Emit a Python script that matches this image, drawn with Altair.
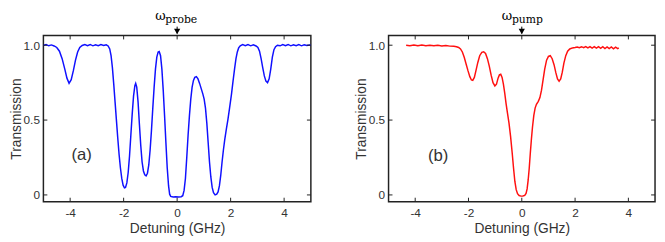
import altair as alt
import pandas as pd

# ---- data ----
probe_x = [-5.0, -4.9, -4.8, -4.7, -4.6, -4.5, -4.4, -4.3, -4.2, -4.12, -4.04, -3.96, -3.88, -3.8, -3.72, -3.64, -3.55,
           -3.45, -3.35, -3.25, -3.15, -3.05, -2.95, -2.85, -2.75, -2.65, -2.58,
           -2.52, -2.47, -2.42, -2.37, -2.32, -2.27, -2.22, -2.17, -2.12, -2.07, -2.02, -1.97, -1.93, -1.88, -1.83,
           -1.78, -1.73, -1.68, -1.63, -1.58, -1.55, -1.51, -1.46, -1.41, -1.36, -1.31, -1.26, -1.21, -1.16, -1.11,
           -1.06, -1.01, -0.96, -0.91, -0.86, -0.81, -0.76, -0.71, -0.67, -0.62, -0.57, -0.52, -0.47, -0.42, -0.37,
           -0.32, -0.28, -0.24, -0.15, -0.05, 0.05, 0.15, 0.21, 0.26, 0.31, 0.36, 0.41, 0.46, 0.51, 0.56, 0.61, 0.66,
           0.72, 0.78, 0.84, 0.9, 0.96, 1.01, 1.06, 1.11, 1.16, 1.21, 1.26, 1.31, 1.36, 1.42, 1.48, 1.53, 1.58, 1.63,
           1.68, 1.73, 1.78, 1.84, 1.9, 1.96, 2.03, 2.09, 2.15, 2.2, 2.25, 2.3, 2.36,
           2.45, 2.55, 2.65, 2.75, 2.85, 2.95,
           3.02, 3.08, 3.14, 3.2, 3.26, 3.32, 3.38, 3.44, 3.5, 3.56, 3.62, 3.68, 3.75,
           3.85, 3.95, 4.05, 4.15, 4.25, 4.35, 4.45, 4.55, 4.65, 4.75, 4.85, 4.95, 5.0]
probe_y = [0.998, 1.004, 0.996, 1.002, 0.995, 0.985, 0.96, 0.91, 0.84, 0.78, 0.745, 0.77, 0.83, 0.9, 0.955, 0.985, 0.998,
           1.004, 0.997, 1.005, 0.996, 1.003, 0.997, 1.004, 0.998, 1.003, 0.995,
           0.975, 0.93, 0.85, 0.74, 0.62, 0.5, 0.38, 0.27, 0.18, 0.11, 0.065, 0.047, 0.05, 0.08, 0.15,
           0.26, 0.4, 0.54, 0.66, 0.73, 0.745, 0.72, 0.62, 0.47, 0.33, 0.22, 0.16, 0.135, 0.128, 0.145,
           0.2, 0.3, 0.43, 0.58, 0.72, 0.84, 0.92, 0.955, 0.958, 0.93, 0.84, 0.7, 0.53, 0.35, 0.18,
           0.06, 0.005, -0.01, -0.014, -0.012, -0.014, -0.012, -0.005, 0.03, 0.11, 0.25, 0.4, 0.53, 0.64, 0.72, 0.765, 0.785,
           0.79, 0.775, 0.745, 0.71, 0.675, 0.64, 0.58, 0.48, 0.35, 0.22, 0.12, 0.05, 0.015, 0.0, 0.005, 0.02, 0.06, 0.13,
           0.22, 0.3, 0.37, 0.44, 0.505, 0.58, 0.67, 0.76, 0.845, 0.91, 0.955, 0.982, 0.996,
           1.004, 0.997, 1.004, 0.996, 1.003, 0.995,
           0.985, 0.96, 0.91, 0.85, 0.795, 0.76, 0.75, 0.775, 0.84, 0.92, 0.97, 0.99, 1.0,
           0.996, 1.004, 0.997, 1.005, 0.996, 1.003, 0.997, 1.004, 0.996, 1.003, 0.998, 1.002, 0.999]

pump_x = [-4.34, -4.2, -4.05, -3.9, -3.75, -3.6, -3.45, -3.3, -3.15, -3.0, -2.85, -2.7, -2.55, -2.45, -2.37, -2.3,
          -2.23, -2.16, -2.09, -2.02, -1.95, -1.89, -1.84, -1.78, -1.72, -1.65, -1.58, -1.5, -1.43, -1.36, -1.29,
          -1.22, -1.15, -1.08, -1.01, -0.95, -0.89, -0.84, -0.79, -0.74, -0.69, -0.64, -0.59, -0.54, -0.48, -0.42,
          -0.36, -0.31, -0.26, -0.21, -0.16, -0.1, -0.03, 0.04, 0.11, 0.16, 0.2, 0.24, 0.28, 0.32, 0.36, 0.4, 0.45,
          0.5, 0.55, 0.62, 0.68, 0.74, 0.8, 0.86, 0.93, 1.0, 1.07, 1.14, 1.21, 1.28, 1.34, 1.4, 1.46, 1.52, 1.58,
          1.65, 1.72, 1.8, 1.9, 2.0, 2.08, 2.16, 2.24, 2.32, 2.4, 2.48, 2.56, 2.64, 2.72, 2.8, 2.88, 2.96, 3.04,
          3.12, 3.2, 3.28, 3.36, 3.44, 3.52, 3.6, 3.64]
pump_y = [1.0, 0.997, 1.002, 0.996, 1.001, 0.997, 1.0, 0.996, 0.999, 0.995, 0.998, 0.994, 0.993, 0.99, 0.985, 0.975,
          0.955, 0.92, 0.875, 0.83, 0.79, 0.768, 0.765, 0.785, 0.83, 0.885, 0.93, 0.952, 0.956, 0.945, 0.91,
          0.86, 0.8, 0.75, 0.728, 0.74, 0.78, 0.802, 0.806, 0.785, 0.74, 0.68, 0.61, 0.55, 0.48, 0.39,
          0.28, 0.18, 0.09, 0.035, 0.008, -0.004, -0.008, -0.007, -0.003, 0.01, 0.04, 0.1, 0.18, 0.28, 0.37, 0.45, 0.53,
          0.58, 0.605, 0.625, 0.65, 0.7, 0.77, 0.84, 0.9, 0.925, 0.93, 0.91, 0.87, 0.815, 0.775, 0.76, 0.775, 0.82, 0.88,
          0.93, 0.96, 0.975, 0.982, 0.985, 0.988, 0.984, 0.99, 0.983, 0.991, 0.982, 0.991, 0.981, 0.99, 0.98, 0.99, 0.979, 0.99,
          0.978, 0.989, 0.977, 0.988, 0.976, 0.987, 0.977, 0.982]

x_ticks = [-4, -2, 0, 2, 4]
y_ticks = [0, 0.5, 1.0]
panel_labels = ["(a)", "(b)"]
label_x = [-3.57, -3.14]
label_y = [0.264, 0.26]
omega_subs = ["probe", "pump"]

# ---- styling ----
H = 169
XDOM = [-5, 5]
YDOM = [-0.045, 1.065]
FONT = "Liberation Sans"
TXT = "#333333"
FRAME = "#222222"


def panel(xs, ys, color, width, label, lx, ly, sub, omega_dx, sub_dx):
    xsc = alt.Scale(domain=XDOM, nice=False, zero=False)
    ysc = alt.Scale(domain=YDOM, nice=False, zero=False)
    X = alt.X("x:Q", scale=xsc, title="Detuning (GHz)", axis=alt.Axis(
        values=x_ticks, grid=False, domain=False, ticks=False, tickSize=0,
        labelExpr="datum.value < 0 ? '-' + abs(datum.value) : '' + datum.value",
        labelFont=FONT, labelFontSize=12, labelColor=TXT, labelPadding=6,
        titleFont=FONT, titleFontSize=14, titleFontWeight="normal", titleColor=TXT, titlePadding=3))
    Y = alt.Y("y:Q", scale=ysc, title="Transmission", axis=alt.Axis(
        values=y_ticks, grid=False, domain=False, ticks=False, tickSize=0,
        labelExpr="datum.value == 0 ? '0' : format(datum.value, '.1f')",
        labelFont=FONT, labelFontSize=12, labelColor=TXT, labelPadding=4,
        titleFont=FONT, titleFontSize=14, titleFontWeight="normal", titleColor=TXT, titlePadding=0))

    df = pd.DataFrame({"x": xs, "y": ys})
    line = alt.Chart(df).mark_line(color=color, strokeWidth=1.5, clip=True).encode(x=X, y=Y)

    xt = pd.DataFrame({"x": x_ticks})
    yt = pd.DataFrame({"y": y_ticks})
    bottom = alt.Chart(xt).mark_rule(color=FRAME, strokeWidth=1).encode(
        x=X, y=alt.value(H), y2=alt.value(H - 4))
    top = alt.Chart(xt).mark_rule(color=FRAME, strokeWidth=1).encode(
        x=X, y=alt.value(0), y2=alt.value(4))
    left = alt.Chart(yt).mark_rule(color=FRAME, strokeWidth=1).encode(
        y=Y, x=alt.value(0), x2=alt.value(4))
    right = alt.Chart(yt).mark_rule(color=FRAME, strokeWidth=1).encode(
        y=Y, x=alt.value(width), x2=alt.value(width - 4))

    arr = pd.DataFrame({"x": [0]})
    shaft = alt.Chart(arr).mark_rule(color="black", strokeWidth=1).encode(
        x=X, y=alt.value(-9), y2=alt.value(-2))
    head = alt.Chart(arr).mark_point(shape="triangle-down", filled=True, color="black",
                                     size=40, opacity=1).encode(x=X, y=alt.value(-4))
    omega = alt.Chart(arr).mark_text(text="ω", font="DejaVu Serif", fontSize=13, align="center",
                                     baseline="alphabetic", dx=omega_dx, color="black").encode(
        x=X, y=alt.value(-16))
    subt = alt.Chart(arr).mark_text(text=sub, font="DejaVu Serif", fontSize=11, align="left",
                                    baseline="alphabetic", dx=sub_dx, color="black").encode(
        x=X, y=alt.value(-13))

    lab = alt.Chart(pd.DataFrame({"x": [lx], "y": [ly], "t": [label]})).mark_text(
        font=FONT, fontSize=17, color=TXT, align="center", baseline="middle").encode(
        x=X, y=Y, text="t:N")

    return alt.layer(line, bottom, top, left, right, shaft, head, omega, subt, lab).properties(
        width=width, height=H)


pa = panel(probe_x, probe_y, "#1010ff", 272, panel_labels[0], label_x[0], label_y[0], omega_subs[0], -17, -12)
pb = panel(pump_x, pump_y, "#ff1010", 271, panel_labels[1], label_x[1], label_y[1], omega_subs[1], -15, -10)

chart = alt.hconcat(pa, pb, spacing=41).properties(
    padding={"top": -1, "left": 0, "right": 0, "bottom": 0}, background="white"
).configure_view(stroke=FRAME, strokeWidth=1.5)

chart.save("out.html", embed_options={"renderer": "svg", "actions": False})
